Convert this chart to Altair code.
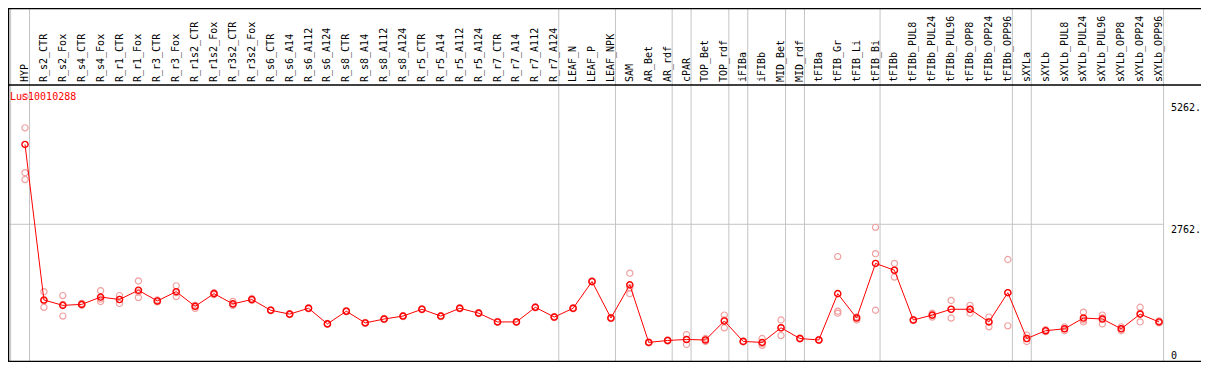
import altair as alt
import pandas as pd

labels = ["HYP", "R_s2_CTR", "R_s2_Fox", "R_s4_CTR", "R_s4_Fox", "R_r1_CTR", "R_r1_Fox",
          "R_r3_CTR", "R_r3_Fox", "R_r1s2_CTR", "R_r1s2_Fox", "R_r3s2_CTR", "R_r3s2_Fox",
          "R_s6_CTR", "R_s6_A14", "R_s6_A112", "R_s6_A124", "R_s8_CTR", "R_s8_A14", "R_s8_A112",
          "R_s8_A124", "R_r5_CTR", "R_r5_A14", "R_r5_A112", "R_r5_A124", "R_r7_CTR", "R_r7_A14",
          "R_r7_A112", "R_r7_A124", "LEAF_N", "LEAF_P", "LEAF_NPK", "SAM", "AR_Bet", "AR_rdf",
          "cPAR", "TOP_Bet", "TOP_rdf", "iFIBa", "iFIBb", "MID_Bet", "MID_rdf", "tFIBa",
          "tFIB_Gr", "tFIB_Li", "tFIB_Bi", "tFIBb", "tFIBb_PUL8", "tFIBb_PUL24", "tFIBb_PUL96",
          "tFIBb_OPP8", "tFIBb_OPP24", "tFIBb_OPP96", "sXYLa", "sXYLb", "sXYLb_PUL8",
          "sXYLb_PUL24", "sXYLb_PUL96", "sXYLb_OPP8", "sXYLb_OPP24", "sXYLb_OPP96"]

means = [4400, 1210, 1100, 1120, 1270, 1220, 1410, 1190, 1380, 1080, 1340, 1130, 1220,
         1000, 920, 1040, 720, 980, 740, 820, 880, 1020, 880, 1040, 940, 760, 760, 1060, 860,
         1040, 1590, 840, 1520, 340, 380, 400, 390, 780, 360, 340, 640, 420, 390,
         1340, 840, 1960, 1820, 800, 900, 1020, 1020, 760, 1360, 420, 580, 620,
         840, 820, 620, 920, 760]

rep_a = [5380, 1380, 1300, 1100, 1400, 1300, 1600, 1170, 1500, 1100, 1340, 1180, 1240,
         1000, 920, 1040, 720, 980, 740, 820, 880, 1020, 880, 1040, 940, 760, 760, 1060, 860,
         1040, 1590, 840, 1760, 340, 380, 500, 420, 900, 360, 420, 800, 420, 390,
         2100, 860, 2700, 1960, 800, 940, 1200, 1100, 860, 2040, 490, 600, 660,
         960, 900, 660, 1060, 760]
rep_b = [4740, 1060, 880, 1140, 1180, 1140, 1260, 1210, 1280, 1040, 1320, 1100, 1200,
         990, 910, 1030, 710, 970, 730, 810, 870, 1010, 870, 1030, 930, 750, 750, 1050, 850,
         1030, 1580, 830, 1340, 330, 370, 300, 360, 640, 350, 280, 480, 410, 380,
         940, 800, 2160, 1680, 790, 860, 840, 940, 660, 680, 360, 560, 580,
         760, 720, 580, 760, 740]
rep_c = [3820, 1190, 1120, 1120, 1230, 1220, 1370, 1190, 1360, 1100, 1360, 1110, 1220,
         1010, 930, 1050, 730, 990, 750, 830, 890, 1030, 890, 1050, 950, 770, 770, 1070, 870,
         1050, 1600, 850, 1460, 350, 390, 400, 390, 800, 370, 320, 640, 430, 400,
         980, 860, 1000, 1820, 810, 900, 1020, 1020, 760, 1360, 420, 580, 620,
         800, 840, 620, 940, 780]
rep_d_hyp = [3680]

separators = [-1, 0, 28, 31, 34, 35, 37, 38, 40, 41, 45, 52, 53, 60]
tick_values = [5262, 2762, 0]
tick_labels = ["5262.", "2762.", "0"]
gene = "Lus10010288"

W, H = 1193, 354
HEADER_Y = 77
RED = "#ff0000"
PINK = "#f0a0a0"
GRAY = "#c4c4c4"
FONT = "DejaVu Sans Mono"

xs = alt.Scale(domain=[-0.9, 62.22], nice=False, zero=False)
ys = alt.Scale(domain=[-61.5, 7197], nice=False, zero=False)

df = pd.DataFrame({"i": list(range(len(labels))), "label": labels, "mean": means})
reps = []
for k in range(len(labels)):
    for r in (rep_a, rep_b, rep_c):
        reps.append({"i": k, "v": r[k]})
for v in rep_d_hyp:
    reps.append({"i": 0, "v": v})
rep_df = pd.DataFrame(reps)
sep_df = pd.DataFrame({"pos": [s + 0.24 for s in separators]})
grid_df = pd.DataFrame({"v": [tick_values[1]], "x0": [-0.9], "x1": [separators[-1] + 0.24]})
tick_df = pd.DataFrame({"v": tick_values, "t": tick_labels})

seps = alt.Chart(sep_df).mark_rule(color=GRAY, strokeWidth=1).encode(
    x=alt.X("pos:Q", scale=xs, axis=None), y=alt.value(0), y2=alt.value(H))

grid = alt.Chart(grid_df).mark_rule(color=GRAY, strokeWidth=1).encode(
    x=alt.X("x0:Q", scale=xs, axis=None), x2="x1:Q",
    y=alt.Y("v:Q", scale=ys, axis=None))

frame_h = alt.Chart(pd.DataFrame({"yy": [0.5, HEADER_Y, H - 0.5]})).mark_rule(
    color="black", strokeWidth=1.5).encode(
    y=alt.Y("yy:Q", scale=alt.Scale(domain=[H, 0], range=[H, 0], nice=False, zero=False), axis=None),
    x=alt.value(0), x2=alt.value(W))

frame_v = alt.Chart(pd.DataFrame({"xx": [0.5]})).mark_rule(color="black", strokeWidth=1.5).encode(
    x=alt.value(0.5), y=alt.value(0), y2=alt.value(H))

head = alt.Chart(df).mark_text(angle=270, align="left", baseline="middle",
                               font=FONT, fontSize=10, color="black").encode(
    x=alt.X("i:Q", scale=xs, axis=None), y=alt.value(HEADER_Y - 3), text="label:N")

rep_pts = alt.Chart(rep_df).mark_point(shape="circle", filled=False, color=PINK,
                                       size=38, strokeWidth=1.2, opacity=1).encode(
    x=alt.X("i:Q", scale=xs, axis=None), y=alt.Y("v:Q", scale=ys, axis=None))

line = alt.Chart(df).mark_line(color=RED, strokeWidth=1).encode(
    x=alt.X("i:Q", scale=xs, axis=None), y=alt.Y("mean:Q", scale=ys, axis=None))

mean_pts = alt.Chart(df).mark_point(shape="circle", filled=False, color=RED,
                                    size=38, strokeWidth=1.4, opacity=1).encode(
    x=alt.X("i:Q", scale=xs, axis=None), y=alt.Y("mean:Q", scale=ys, axis=None))

title = alt.Chart(pd.DataFrame({"t": [gene]})).mark_text(
    align="left", baseline="middle", font=FONT, fontSize=10, color=RED).encode(
    x=alt.value(2), y=alt.value(HEADER_Y + 12), text="t:N")

ticks_top = alt.Chart(tick_df.iloc[:2]).mark_text(
    align="left", baseline="top", font=FONT, fontSize=10, color="black", dy=1).encode(
    x=alt.value(1163), y=alt.Y("v:Q", scale=ys, axis=None), text="t:N")
ticks_bot = alt.Chart(tick_df.iloc[2:]).mark_text(
    align="left", baseline="bottom", font=FONT, fontSize=10, color="black", dy=2).encode(
    x=alt.value(1163), y=alt.Y("v:Q", scale=ys, axis=None), text="t:N")

chart = alt.layer(seps, grid, frame_h, frame_v, head, rep_pts, line, mean_pts, title,
                  ticks_top, ticks_bot).resolve_scale(y="independent").properties(
    width=W, height=H, padding=0,
    autosize=alt.AutoSizeParams(type="none")
).configure_view(stroke=None).configure(background="white")

chart.save("out.html", embed_options={"renderer": "svg", "actions": False})
